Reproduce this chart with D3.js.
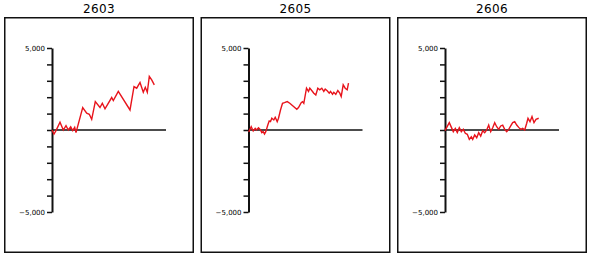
<!DOCTYPE html>
<html>
<head>
<meta charset="utf-8">
<script src="https://cdn.jsdelivr.net/npm/d3@7"></script>
<style>
  body { margin: 0; background: #fff; }
  svg { display: block; }
  .title { font-family: "DejaVu Sans", Verdana, sans-serif; font-size: 12px; letter-spacing: 0.4px; }
  .axis text { font-family: "DejaVu Sans", Verdana, sans-serif; font-size: 7px; fill: #000; }
</style>
</head>
<body>
<svg id="chart" width="592" height="260"></svg>
<script>
// small multiples: cumulative series per code
const codes = ["2603", "2605", "2606"];

const days2603 = [0, 2, 4, 8, 11.3, 14, 16.3, 18.7, 20.7, 22.7, 24, 30.7, 34.7, 37.3, 39.7, 43.3, 48, 50.3, 53, 59.7, 61.3, 66.3, 78, 82, 84.7, 88, 91.3, 93.3, 95.3, 97.3, 99.7, 102.3];
const vals2603 = [0, -250, -40, 470, 0, 265, 0, 200, -40, 160, -160, 1370, 1020, 960, 650, 1730, 1370, 1630, 1290, 1980, 1800, 2350, 1220, 2650, 2550, 2900, 2300, 2600, 2300, 3270, 3060, 2750];

const days2605 = [0, 0.7, 2.7, 4.7, 6.7, 8, 10, 12, 13.3, 14.7, 16, 17.3, 19.3, 20.7, 22, 23.3, 25.3, 26.7, 28.7, 30, 32, 34, 36, 38.7, 41.3, 48.3, 50, 52.7, 54, 55.3, 58, 60, 61.3, 64, 65.3, 67.3, 69.3, 71.3, 73.3, 75.3, 76.7, 78.7, 80.7, 82, 84, 85.3, 87.3, 89.3, 91.3, 92.7, 94.7, 96.7, 98.7, 100];
const vals2605 = [-100, -60, 200, -60, 100, 0, 140, 0, -160, -100, -245, -100, 300, 550, 510, 715, 610, 775, 510, 715, 1220, 1630, 1670, 1730, 1630, 1265, 1370, 1670, 1730, 1630, 2550, 2350, 2550, 2350, 2245, 2140, 2550, 2450, 2550, 2350, 2490, 2390, 2245, 2350, 2180, 2300, 2180, 2410, 2245, 2040, 2755, 2550, 2450, 2860];

const days2606 = [0, 4.3, 8.3, 10.3, 12.3, 14.3, 16.3, 18.3, 20.3, 22.3, 24.3, 26.3, 27.7, 29.7, 31.7, 33.7, 35.7, 37.7, 39.7, 41.7, 43.7, 45.7, 47.7, 49.7, 51.7, 53.7, 55.7, 57.7, 59.7, 61.7, 63.7, 65.7, 67.7, 69.7, 71.7, 73.7, 75.7, 77.7, 79.7, 81.7, 83, 85, 87, 89, 91, 93.7];
const vals2606 = [-40, 450, -100, 100, -160, 140, -100, 40, -200, -265, -570, -410, -570, -300, -470, -160, -370, -40, -160, 0, 300, -100, 140, 450, 200, 40, 245, 300, 40, -100, 40, 245, 450, 510, 300, 160, 40, 100, 0, 410, 715, 510, 815, 450, 650, 715];

const yTicks = [-5000, -4000, -3000, -2000, -1000, 0, 1000, 2000, 3000, 4000, 5000];
const dayMax = 114;

const series = [
  { code: codes[0], days: days2603, vals: vals2603 },
  { code: codes[1], days: days2605, vals: vals2605 },
  { code: codes[2], days: days2606, vals: vals2606 },
];

const svg = d3.select("#chart");
const panelW = 190, panelH = 236, panelTop = 17;
const panelLeft = [4, 200.5, 397];
const axisOff = 48;

const y = d3.scaleLinear().domain([-5000, 5000]).range([195, 31]);
const fmt = d3.format(",");

series.forEach((s, i) => {
  const g = svg.append("g").attr("transform", `translate(${panelLeft[i]},${panelTop})`);

  g.append("rect")
    .attr("x", 0.75).attr("y", 0.75)
    .attr("width", panelW - 1.5).attr("height", panelH - 1.5)
    .attr("fill", "none").attr("stroke", "#111").attr("stroke-width", 1.5);

  svg.append("text")
    .attr("class", "title")
    .attr("x", panelLeft[i] + panelW / 2)
    .attr("y", 13)
    .attr("text-anchor", "middle")
    .text(s.code);

  const x = d3.scaleLinear().domain([0, dayMax]).range([axisOff, axisOff + 114]);

  // zero line
  g.append("line")
    .attr("x1", x(0)).attr("x2", x(dayMax))
    .attr("y1", y(0)).attr("y2", y(0))
    .attr("stroke", "#111").attr("stroke-width", 1.5);

  const axis = g.append("g")
    .attr("class", "axis")
    .attr("transform", `translate(${axisOff},0)`)
    .call(d3.axisLeft(y)
      .tickValues(yTicks)
      .tickSize(5)
      .tickSizeOuter(0)
      .tickPadding(2)
      .tickFormat(d => Math.abs(d) === 5000 ? fmt(d) : ""));
  axis.select(".domain").attr("stroke", "#111").attr("stroke-width", 2);
  axis.selectAll(".tick line").attr("stroke", "#111").attr("stroke-width", 1.5);

  const pts = s.days.map((d, j) => [d, s.vals[j]]);
  g.append("path")
    .datum(pts)
    .attr("fill", "none")
    .attr("stroke", "#e8141c")
    .attr("stroke-width", 1.4)
    .attr("stroke-linejoin", "miter")
    .attr("d", d3.line().x(d => x(d[0])).y(d => y(d[1])));
});
</script>
</body>
</html>
